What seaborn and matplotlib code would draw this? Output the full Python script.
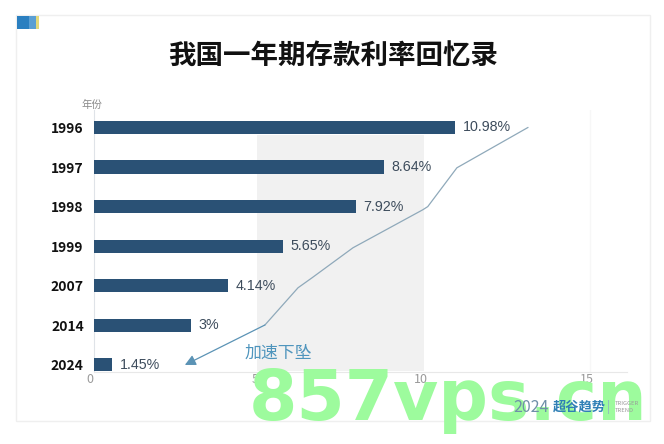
import matplotlib
matplotlib.use('Agg')
import matplotlib.pyplot as plt
import matplotlib.transforms as mtrans
import pandas as pd
import seaborn as sns
from matplotlib.patches import Rectangle

years = ['1996', '1997', '1998', '1999', '2007', '2014', '2024']
# bar lengths as drawn in the picture, they do not quite follow the printed labels
bar_lengths = [10.92, 8.78, 7.93, 5.72, 4.06, 2.95, 0.56]
rate_labels = ['10.98%', '8.64%', '7.92%', '5.65%', '4.14%', '3%', '1.45%']
trend_x = [13.13, 10.98, 10.1, 9.95, 7.84, 6.6, 6.18, 5.18, 2.76]
trend_y = [0, 1.02, 2.0, 2.08, 3.04, 3.8, 4.05, 4.99, 6.0]
x_ticks = [0, 5, 10, 15]

sns.set_theme(style='white')
plt.rcParams['font.family'] = ['Noto Sans CJK SC', 'DejaVu Sans']

W, H = 664, 444
fig = plt.figure(figsize=(W / 100, H / 100), dpi=100)
fig.patch.set_facecolor('white')


def card_rect(x, y, w, h, **kw):
    # pixel box from the top-left corner, kept behind the axes
    fig.add_artist(Rectangle((x / W, 1 - (y + h) / H), w / W, h / H, transform=fig.transFigure, zorder=-1, **kw))


card_rect(16, 15, 634, 406, fc='white', ec='#efefef', lw=1)
card_rect(17, 16, 12, 13, fc='#2a7fc0', ec='none')
card_rect(29, 16, 7, 13, fc='#5a9fd4', ec='none')
card_rect(36, 16, 2.5, 13, fc='#e3d97a', ec='none')

ax = fig.add_axes([93.5 / W, 1 - 371.5 / H, 533.5 / W, 261.5 / H])
ax.set_facecolor('none')

df = pd.DataFrame({'year': years, 'rate': bar_lengths})
sns.barplot(data=df, x='rate', y='year', color='#2a5175', saturation=1, width=0.33,
            linewidth=0, ax=ax, zorder=3)

ax.set_xlim(0, 16.12)
ax.set_ylim(6.165, -0.44)

# shaded band starts just under the first bar
ax.add_patch(Rectangle((4.95, 0.19), 5.05, 5.975, fc='#f1f1f1', ec='none', zorder=1))
ax.axvline(15, color='#f7f7f7', lw=1, zorder=1)

for i, label in enumerate(rate_labels):
    ax.annotate(label, (bar_lengths[i], i), xytext=(5.5, 0), textcoords='offset points',
                va='center', ha='left', fontsize=10.3, color='#3d4c5c', family='Liberation Sans', zorder=4)

ax.plot(trend_x[:-1], trend_y[:-1], color='#8fa9ba', lw=0.9, zorder=4)
ax.annotate('', xy=(trend_x[-1], trend_y[-1]), xytext=(trend_x[-2], trend_y[-2]),
            arrowprops=dict(arrowstyle='-|>', color='#5b93b5', lw=0.9, mutation_scale=16, shrinkA=0, shrinkB=0),
            zorder=4)

ax.text(5.57, 5.7, '加速下坠', color='#4f95bd', fontsize=12.2, ha='center', va='center', zorder=4)

ax.set_xlabel('')
ax.set_ylabel('')
ax.set_xticks(x_ticks)
ax.set_xticklabels([str(t) for t in x_ticks], color='#9a9a9a', fontsize=9)
ax.tick_params(axis='x', length=0, pad=1)
ax.tick_params(axis='y', length=0, pad=7)
# tick numbers sit a little left of their ticks
shift = mtrans.ScaledTranslation(-3.5 / 100, 0, fig.dpi_scale_trans)
for lab in ax.get_xticklabels():
    lab.set_transform(lab.get_transform() + shift)
ax.set_yticks(range(len(years)))
ax.set_yticklabels(years, fontsize=10, fontweight='bold', color='#111111')
sns.despine(ax=ax, top=True, right=True)
ax.spines['left'].set_color('#dfe3e8')
ax.spines['bottom'].set_color('#e8e8e8')
ax.spines['left'].set_linewidth(0.8)
ax.spines['bottom'].set_linewidth(0.8)

fig.text(333 / W, 1 - 57 / H, '我国一年期存款利率回忆录', ha='center', va='center',
         fontsize=19.8, fontweight='bold', color='#111111')
fig.text(92 / W, 1 - 105 / H, '年份', ha='center', va='center', fontsize=7.5, color='#8a8a8a')

# site stamp across the bottom
fig.text(448 / W, 1 - 400 / H, '857vps.cn', ha='center', va='center', fontsize=50, fontweight='bold',
         color='#9dfb9d', family='DejaVu Sans', zorder=4)

# logo at the lower right, on top of the stamp
fig.text(513 / W, 1 - 407 / H, '2024', ha='left', va='center', fontsize=11.5, color='#6f8fa8', zorder=5)
fig.text(553 / W, 1 - 407 / H, '超谷趋势', ha='left', va='center', fontsize=9.5, color='#2f7fb5',
         fontweight='bold', zorder=5)
fig.text(608 / W, 1 - 407 / H, '|', ha='center', va='center', fontsize=9, color='#8fb0c4', zorder=5)
fig.text(615 / W, 1 - 403 / H, 'TRIGGER', ha='left', va='center', fontsize=4.2, color='#9a9a9a', zorder=5)
fig.text(615 / W, 1 - 410 / H, 'TREND', ha='left', va='center', fontsize=4.2, color='#9a9a9a', zorder=5)

fig.savefig('out.png', dpi=100, facecolor='white')
